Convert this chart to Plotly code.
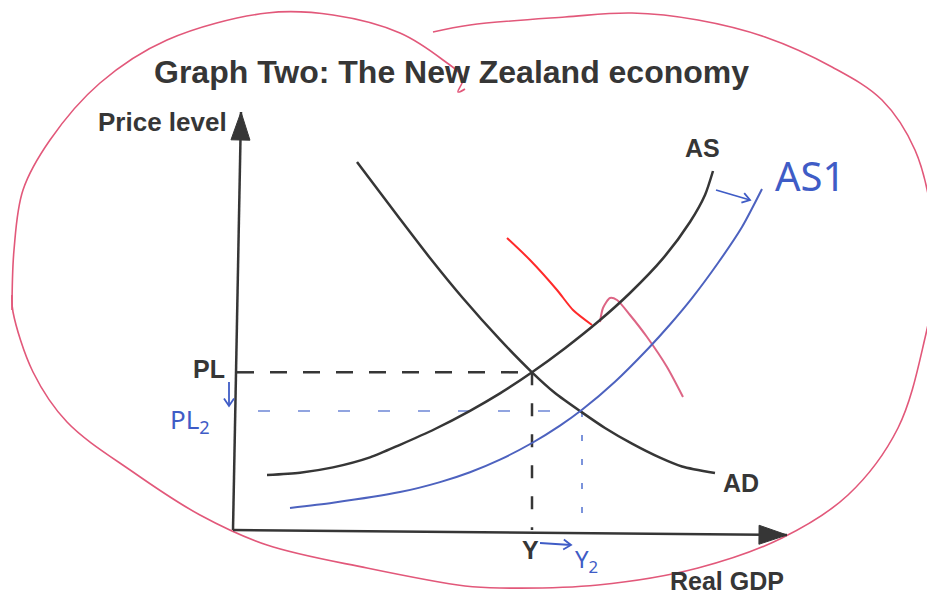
import math
import plotly.graph_objects as go

# ---- data (arbitrary economic units: real GDP on x, price level on y) ----
as_gdp = [6.8, 13.4, 20, 27.4, 33.4, 40.4, 47.4, 53.4, 59.8, 66.4, 73, 79.4, 86, 91.4, 94.4, 96]
as_price = [11, 11.46, 12.52, 14.52, 17.04, 20.2, 23.84, 27.32, 31.54, 36.36, 41.64, 47.4, 54.32, 61.6, 67, 71.8]

ad_gdp = [24.8, 29.4, 33.4, 39.4, 46, 53.4, 59.8, 64.4, 69.8, 74.4, 79.8, 85.4, 89.8, 96.4]
ad_price = [73.6, 67.48, 62.2, 54.4, 46.34, 38.06, 31.54, 27.4, 23.52, 20.4, 17.26, 14.46, 12.7, 11.38]

as1_gdp = [11.4, 20, 33.4, 41.4, 47.4, 53.4, 59.8, 65.4, 69.8, 76.4, 83, 87.4, 91.8, 97, 101.8, 105.8]
as1_price = [4.4, 5.44, 7.58, 9.58, 11.56, 14.08, 17.4, 20.88, 24.04, 29.66, 36.26, 41.1, 46.38, 53.4, 60.6, 68.2]

eq1 = (59.8, 31.54)   # PL, Y
eq2 = (69.8, 23.8)    # PL2, Y2

# axis end points
x_axis_end = (110.8, -1.0)
y_axis_end = (1.6, 83.6)

# hand-drawn red marker annotations (teacher's marks)
loop_top_x = [-44.2, -43.8, -42, -36.6, -26.6, -13.2, 6.8, 20, 33.4, 42, 46, 45, 46.4]
loop_top_y = [44, 56, 68, 78, 89.4, 98, 103.4, 103, 99.4, 94, 90.4, 87.6, 88.2]
loop_x = [40, 47.4, 66.4, 79.8, 93, 106.4, 119.8, 129.8, 136.4, 139.8, 140.4, 138.4, 133, 123, 109.8,
          93, 73, 53.4, 46.4, 26.8, 6.8, -6.6, -20, -33.2, -40, -44, -44.2]
loop_y = [99.6, 101, 102.6, 103.4, 102, 98.6, 92.6, 86, 76, 62.6, 50, 38.4, 20.4, 7, -1.6,
          -7.6, -11, -11.6, -11.2, -7.6, -3, 3, 11.6, 21.6, 31.6, 43.6, 47]
stroke_x = [54.8, 59.4, 64.8, 68, 71.8]
stroke_y = [58.4, 54, 48, 44, 41]
check_x = [73.4, 74, 75.4, 76.8, 79.4, 82.8, 86.8, 90]
check_y = [41.6, 44.4, 46.4, 46, 43, 38.6, 32.6, 26.6]

# handwritten blue shift arrows (tail, tip)
shift_arrows = [((61.4, -2.6), (67.6, -3.0)),
                ((-0.8, 29.6), (-0.8, 24.8)),
                ((96.6, 68.0), (103.4, 66.0))]

INK = "#363636"
BLUE = "#3f5cc6"
BLUE_LINE = "#4d62bf"
PINK = "#e2587a"

fig = go.Figure()

def line(x, y, color, width, dash="solid", shape="spline", smooth=0.7, fill=None):
    ln = dict(color=color, width=width, dash=dash, shape=shape)
    if shape == "spline":
        ln["smoothing"] = smooth
    kw = {}
    if fill:
        kw = dict(fill="toself", fillcolor=color)
    fig.add_trace(go.Scatter(x=x, y=y, mode="lines", line=ln,
                             hoverinfo="skip", showlegend=False, **kw))

def head_pts(tail, tip, length, half):
    dx, dy = tip[0] - tail[0], tip[1] - tail[1]
    d = math.hypot(dx, dy)
    ux, uy = dx / d, dy / d
    bx, by = tip[0] - ux * length, tip[1] - uy * length
    px, py = -uy * half, ux * half
    return (bx + px, by + py), (bx - px, by - py)

# teacher's red loop
line(loop_top_x, loop_top_y, PINK, 1.6, smooth=1)
line(loop_x, loop_y, PINK, 1.6, smooth=1)
line(stroke_x, stroke_y, "#ff2a2a", 2)
line(check_x, check_y, "#dd6585", 2)

# dashed guide lines
line([0.8, eq1[0]], [eq1[1], eq1[1]], INK, 2.5, dash="17px,16px", shape="linear")
line([eq1[0], eq1[0]], [eq1[1], 0], INK, 2.5, dash="13px,18px", shape="linear")
line([5, eq2[0]], [eq2[1], eq2[1]], "#6d86d6", 1.5, dash="12px,28px", shape="linear")
line([eq2[0], eq2[0]], [eq2[1], 0], "#5070d0", 1.5, dash="6px,18px", shape="linear")

# curves
line(as_gdp, as_price, INK, 2.5)
line(ad_gdp, ad_price, INK, 2.5)
line(as1_gdp, as1_price, BLUE_LINE, 2)

# axes with solid arrowheads
for end in (x_axis_end, y_axis_end):
    line([0, end[0]], [0, end[1]], INK, 2.5, shape="linear")
    a, b = head_pts((0, 0), end, 5.6, 1.9)
    line([end[0], a[0], b[0], end[0]], [end[1], a[1], b[1], end[1]], INK, 1, shape="linear", fill=True)

# blue open arrows
for tail, tip in shift_arrows:
    a, b = head_pts(tail, tip, 1.5, 1.0)
    line([tail[0], tip[0]], [tail[1], tip[1]], BLUE, 1.8, shape="linear")
    line([a[0], tip[0], b[0]], [a[1], tip[1], b[1]], BLUE, 1.8, shape="linear")

def label(x, y, text, size, color=INK, bold=True, family="Liberation Sans, Arial, sans-serif"):
    t = f"<b>{text}</b>" if bold else text
    fig.add_annotation(x=x, y=y, xref="x", yref="y", text=t, showarrow=False,
                       font=dict(family=family, size=size, color=color))

label(43.6, 91.6, "Graph Two: The New Zealand economy", 32)
label(-14.2, 81.6, "Price level", 26)
label(98.8, -10.2, "Real GDP", 25)
label(93.8, 76.4, "AS", 25)
label(101.6, 9.4, "AD", 25)
label(-4.8, 32.2, "PL", 25)
label(59.4, -4.0, "Y", 25)

label(115.4, 71.0, "AS1", 40, color=BLUE, bold=False, family="Noto Sans, DejaVu Sans, sans-serif")
label(-8.6, 22.0, "PL<sub>2</sub>", 26, color=BLUE, bold=False, family="Noto Sans, DejaVu Sans, sans-serif")
label(70.6, -6.0, "Y<sub>2</sub>", 24, color=BLUE, bold=False, family="Noto Sans, DejaVu Sans, sans-serif")

fig.update_layout(
    width=935, height=595,
    margin=dict(l=0, r=0, t=0, b=0),
    paper_bgcolor="white", plot_bgcolor="white",
    xaxis=dict(range=[-45, 142], visible=False, fixedrange=True),
    yaxis=dict(range=[-14.6, 104.4], visible=False, fixedrange=True),
    showlegend=False,
)

fig.write_html("out.html")
